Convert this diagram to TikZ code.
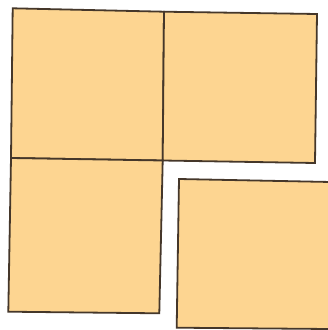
\documentclass[tikz,border=0pt]{standalone}
\definecolor{tile}{HTML}{FDD591}
\definecolor{edge}{HTML}{45372A}
\tikzset{tilebox/.style={fill=tile,draw=edge,line width=1.8pt,line join=miter}}
\begin{document}
\begin{tikzpicture}[x=1pt,y=-1pt]
\useasboundingbox (0,0) rectangle (328,330);
\clip (0,0) rectangle (328,330);
\fill[white] (0,0) rectangle (328,330);
% top-left
\draw[tilebox] (12.7,8.3) -- (164,11.7) -- (162.7,160.5) -- (11,158) -- cycle;
% top-right
\draw[tilebox] (164,11.7) -- (317,14) -- (315,163) -- (162.7,160.5) -- cycle;
% bottom-left
\draw[tilebox] (11,158) -- (162.7,160.5) -- (159.3,313.3) -- (8.3,311.7) -- cycle;
% bottom-right (separate)
\draw[tilebox] (179,179) -- (331,182) -- (329,329) -- (176.7,327.7) -- cycle;
\end{tikzpicture}
\end{document}
